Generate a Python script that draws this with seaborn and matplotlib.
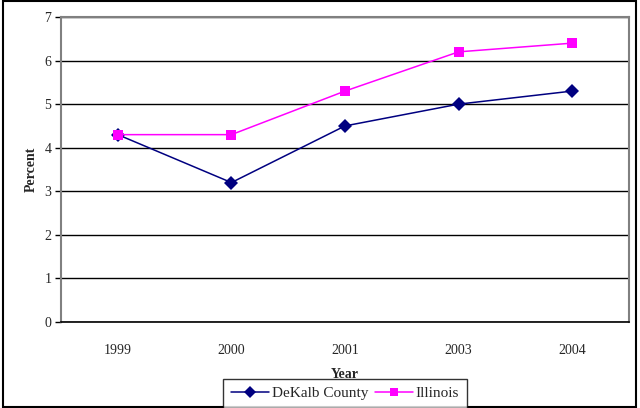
import pandas as pd
import matplotlib.pyplot as plt
import seaborn as sns
from matplotlib.patches import Rectangle

years = ["1999", "2000", "2001", "2003", "2004"]
dekalb = [4.3, 3.2, 4.5, 5.0, 5.3]
illinois = [4.3, 4.3, 5.3, 6.2, 6.4]
series_names = ["DeKalb County", "Illinois"]

df = pd.DataFrame({
    "Year": years * 2,
    "Percent": dekalb + illinois,
    "Series": [series_names[0]] * len(years) + [series_names[1]] * len(years),
})

sns.set_style("white")
plt.rcParams["font.family"] = ["Liberation Serif", "DejaVu Serif"]

fig = plt.figure(figsize=(6.4, 4.08), dpi=100)
ax = fig.add_axes([61 / 640, 86 / 408, 568 / 640, 305 / 408])

sns.lineplot(data=df, x="Year", y="Percent", hue="Series", style="Series",
             palette={"DeKalb County": "#000080", "Illinois": "#FF00FF"},
             markers={"DeKalb County": "D", "Illinois": "s"},
             dashes=False, markersize=7, markeredgewidth=0, linewidth=1.1,
             legend=False, ax=ax)

ax.set_xlim(-0.5, len(years) - 0.5)
ax.set_ylim(0, 7)
ax.set_yticks(range(0, 8))
ax.yaxis.grid(True, color="black", linewidth=1)
ax.set_axisbelow(True)

# category boundaries as tick marks, labels centred in each slot
ax.set_xticks(range(len(years)))
ax.set_xticklabels(years)
ax.set_xticks([i - 0.5 for i in range(len(years) + 1)], minor=True)
ax.tick_params(axis="x", which="major", length=0, pad=16, labelsize=10)
ax.tick_params(axis="x", which="minor", length=5, width=1, color="black", direction="out")
ax.tick_params(axis="y", which="major", length=4, width=1, color="black", direction="out",
               left=True, labelsize=10, pad=3)

for side in ["top", "right", "left"]:
    ax.spines[side].set_color("#808080")
    ax.spines[side].set_linewidth(1.5)
ax.spines["bottom"].set_color("black")
ax.spines["bottom"].set_linewidth(1.2)

ax.set_xlabel("Year", fontsize=10, fontweight="bold", labelpad=8)
ax.set_ylabel("Percent", fontsize=10, fontweight="bold", labelpad=5)

handles = [
    plt.Line2D([], [], color="#000080", marker="D", markersize=6, markeredgewidth=0, linewidth=1.1),
    plt.Line2D([], [], color="#FF00FF", marker="s", markersize=6, markeredgewidth=0, linewidth=1.1),
]
leg = fig.legend(handles, series_names, loc="upper center", bbox_to_anchor=(345 / 640, 1 - 379 / 408),
                 bbox_transform=fig.transFigure, ncol=2, frameon=True, fancybox=False,
                 fontsize=11, handlelength=2.5, handletextpad=0.2, columnspacing=0.4,
                 borderpad=0.5, borderaxespad=0)
leg.get_frame().set_edgecolor("black")
leg.get_frame().set_linewidth(1)

fig.patches.append(Rectangle((0.004, 0.003), 0.99, 0.994, transform=fig.transFigure,
                             fill=False, edgecolor="black", linewidth=1.5))

fig.savefig("out.png", dpi=100)
